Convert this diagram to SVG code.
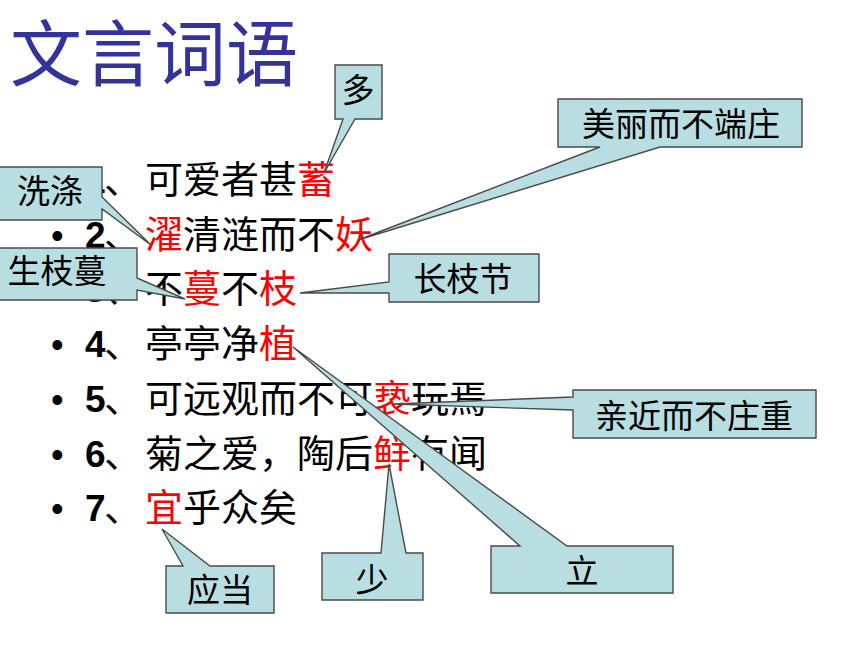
<svg xmlns="http://www.w3.org/2000/svg" width="860" height="645" viewBox="0 0 860 645">
<style>
.title{font-family:"Noto Sans CJK SC","Noto Sans",sans-serif;font-size:72px;fill:#333399}
.line{font-family:"Noto Sans CJK SC","Noto Sans",sans-serif;font-size:38px;fill:#000}
.bul{font-family:"Liberation Sans",Arial,sans-serif;font-size:36px}
.num{font-family:"Liberation Sans",Arial,sans-serif;font-size:37px;font-weight:bold}
.red{fill:#ff0000}
.co{fill:#b8dee1;stroke:#4a4a4a;stroke-width:1.4;stroke-linejoin:miter}
.ct{font-family:"Noto Sans CJK SC","Noto Sans",sans-serif;font-size:33px;fill:#000;text-anchor:middle}
</style>
<rect width="860" height="645" fill="#ffffff"/>
<g id="title"><text class="title" x="10" y="80">文言词语</text></g>
<g id="lines">
<text class="line" y="193"><tspan class="bul" x="51">•</tspan><tspan class="num" x="85">1</tspan><tspan x="104">、</tspan><tspan x="145">可爱者甚</tspan><tspan class="red">蓄</tspan></text>
<text class="line" y="248"><tspan class="bul" x="51">•</tspan><tspan class="num" x="85">2</tspan><tspan x="104">、</tspan><tspan x="145" class="red">濯</tspan><tspan>清涟而不</tspan><tspan class="red">妖</tspan></text>
<text class="line" y="302"><tspan class="bul" x="51">•</tspan><tspan class="num" x="85">3</tspan><tspan x="104">、</tspan><tspan x="145">不</tspan><tspan class="red">蔓</tspan><tspan>不</tspan><tspan class="red">枝</tspan></text>
<text class="line" y="357"><tspan class="bul" x="51">•</tspan><tspan class="num" x="85">4</tspan><tspan x="104">、</tspan><tspan x="145">亭亭净</tspan><tspan class="red">植</tspan></text>
<text class="line" y="412"><tspan class="bul" x="51">•</tspan><tspan class="num" x="85">5</tspan><tspan x="104">、</tspan><tspan x="145">可远观而不可</tspan><tspan class="red">亵</tspan><tspan>玩焉</tspan></text>
<text class="line" y="467"><tspan class="bul" x="51">•</tspan><tspan class="num" x="85">6</tspan><tspan x="104">、</tspan><tspan x="145">菊之爱，陶后</tspan><tspan class="red">鲜</tspan><tspan>有闻</tspan></text>
<text class="line" y="521"><tspan class="bul" x="51">•</tspan><tspan class="num" x="85">7</tspan><tspan x="104">、</tspan><tspan x="145" class="red">宜</tspan><tspan>乎众矣</tspan></text>
</g>
<g id="connectors"></g>
<g id="callout-duo"><path class="co" d="M335,65 H382 V119 H355 L324,173 L343,119 H335 Z"/><text class="ct" x="358" y="102">多</text></g>
<g id="callout-meili"><path class="co" d="M558,99 H802 V147 H660 L358,240 L600,147 H558 Z"/><text class="ct" x="681" y="136">美丽而不端庄</text></g>
<g id="callout-changzhijie"><path class="co" d="M389,254 H539 V302 H389 V293 L300,293 L389,282 Z"/><text class="ct" x="463" y="291">长枝节</text></g>
<g id="callout-xidi"><path class="co" d="M-20,167 H102 V197 L151,245 L102,209 V220 H-20 Z"/><text class="ct" x="50" y="203">洗涤</text></g>
<g id="callout-shengzhiman"><path class="co" d="M-20,248 H137 V278 L185,299 L137,290 V300 H-20 Z"/><text class="ct" x="57" y="283">生枝蔓</text></g>
<g id="callout-li"><path class="co" d="M491,546 H520 L293,347 L567,546 H673 V593 H491 Z"/><text class="ct" x="582" y="583">立</text></g>
<g id="callout-qinjin"><path class="co" d="M573,390 H816 V438 H573 V410 L393,404 L573,397 Z"/><text class="ct" x="694" y="428">亲近而不庄重</text></g>
<g id="callout-shao"><path class="co" d="M322,553 H381 L389,464 L406,553 H423 V600 H322 Z"/><text class="ct" x="372" y="592">少</text></g>
<g id="callout-yingdang"><path class="co" d="M166,566 H183 L162,529 L210,566 H274 V613 H166 Z"/><text class="ct" x="220" y="602">应当</text></g>
</svg>
